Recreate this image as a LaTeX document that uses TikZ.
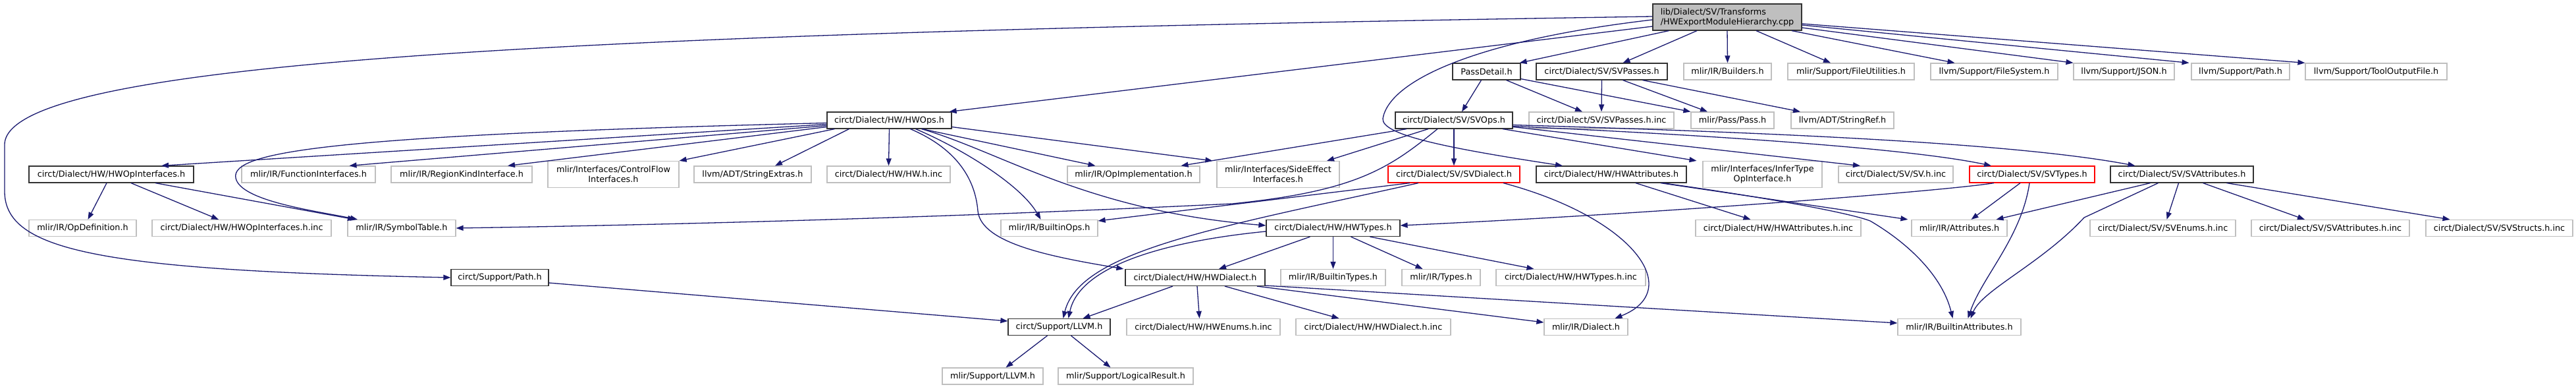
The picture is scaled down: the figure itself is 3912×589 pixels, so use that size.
\documentclass[tikz,border=0pt]{standalone}
\usepackage{fontspec}
\setmainfont{DejaVu Sans}
\usetikzlibrary{arrows.meta}
\definecolor{edgeblue}{HTML}{191970}
\definecolor{nodegray}{HTML}{BFBFBF}
\definecolor{rootfill}{HTML}{BFBFBF}
\definecolor{darkborder}{HTML}{333333}
\begin{document}
\begin{tikzpicture}[x=1pt,y=-1pt,
  box/.style={draw, rectangle, inner xsep=1pt, inner ysep=0pt, minimum height=25pt, fill=white,
    font=\fontsize{12.8}{15}\selectfont, line width=1.2pt},
  doc/.style={box, draw=darkborder},
  undoc/.style={box, draw=nodegray},
  trunc/.style={box, draw=red},
  rootbox/.style={box, draw=darkborder, fill=rootfill, align=left, minimum height=40pt},
  two/.style={align=center, minimum height=40pt},
  e/.style={draw=edgeblue, line width=1.3pt, -{Triangle[length=11pt,width=8pt]}}]
\fill[white] (0,0) rectangle (3912,589);
\useasboundingbox (0,0) rectangle (3912,589);
% row 0
\node[rootbox, minimum width=226pt] (root) at (2623,26) {lib/Dialect/SV/Transforms\\/HWExportModuleHierarchy.cpp};
% row 1
\node[doc, minimum width=103pt] (passdetail) at (2257.5,108.5) {PassDetail.h};
\node[doc, minimum width=199pt] (svpasses) at (2432.5,108.5) {circt/Dialect/SV/SVPasses.h};
\node[undoc, minimum width=133pt] (builders) at (2623.5,108.5) {mlir/IR/Builders.h};
\node[undoc, minimum width=192pt] (fileutil) at (2811,108.5) {mlir/Support/FileUtilities.h};
\node[undoc, minimum width=193pt] (filesystem) at (3028.5,108.5) {llvm/Support/FileSystem.h};
\node[undoc, minimum width=153pt] (json) at (3225.5,108.5) {llvm/Support/JSON.h};
\node[undoc, minimum width=149pt] (llvmpath) at (3402.5,108.5) {llvm/Support/Path.h};
\node[undoc, minimum width=215pt] (tooloutput) at (3608.5,108.5) {llvm/Support/ToolOutputFile.h};
% row 2
\node[doc, minimum width=189pt] (hwops) at (1350.5,182.5) {circt/Dialect/HW/HWOps.h};
\node[doc, minimum width=178pt] (svops) at (2208,182.5) {circt/Dialect/SV/SVOps.h};
\node[undoc, minimum width=220pt] (svpassesinc) at (2432,182.5) {circt/Dialect/SV/SVPasses.h.inc};
\node[undoc, minimum width=126pt] (pass) at (2631,182.5) {mlir/Pass/Pass.h};
\node[undoc, minimum width=156pt] (stringref) at (2798,182.5) {llvm/ADT/StringRef.h};
% row 3
\node[doc, minimum width=250pt] (hwopif) at (169,264.5) {circt/Dialect/HW/HWOpInterfaces.h};
\node[undoc, minimum width=203pt] (funcif) at (468.5,264.5) {mlir/IR/FunctionInterfaces.h};
\node[undoc, minimum width=214pt] (regionkind) at (701,264.5) {mlir/IR/RegionKindInterface.h};
\node[undoc, two, minimum width=199pt] (controlflow) at (931.5,264.5) {mlir/Interfaces/ControlFlow\\Interfaces.h};
\node[undoc, minimum width=178pt] (stringextras) at (1143,264.5) {llvm/ADT/StringExtras.h};
\node[undoc, minimum width=187pt] (hwhinc) at (1349.5,264.5) {circt/Dialect/HW/HW.h.inc};
\node[undoc, minimum width=201pt] (opimpl) at (1721.5,264.5) {mlir/IR/OpImplementation.h};
\node[undoc, two, minimum width=186pt] (sideeffect) at (1941,264.5) {mlir/Interfaces/SideEffect\\Interfaces.h};
\node[trunc, minimum width=200pt] (svdialect) at (2208,264.5) {circt/Dialect/SV/SVDialect.h};
\node[doc, minimum width=228pt] (hwattr) at (2447,264.5) {circt/Dialect/HW/HWAttributes.h};
\node[undoc, two, minimum width=181pt] (infertype) at (2676.5,264.5) {mlir/Interfaces/InferType\\OpInterface.h};
\node[undoc, minimum width=174pt] (svhinc) at (2879,264.5) {circt/Dialect/SV/SV.h.inc};
\node[trunc, minimum width=190pt] (svtypes) at (3086,264.5) {circt/Dialect/SV/SVTypes.h};
\node[doc, minimum width=217pt] (svattr) at (3313.5,264.5) {circt/Dialect/SV/SVAttributes.h};
% row 4
\node[undoc, minimum width=163pt] (opdef) at (125.5,346) {mlir/IR/OpDefinition.h};
\node[undoc, minimum width=272pt] (hwopifinc) at (367,346) {circt/Dialect/HW/HWOpInterfaces.h.inc};
\node[undoc, minimum width=164pt] (symtab) at (610,346) {mlir/IR/SymbolTable.h};
\node[undoc, minimum width=147pt] (builtinops) at (1593.5,346) {mlir/IR/BuiltinOps.h};
\node[doc, minimum width=203pt] (hwtypes) at (2024.5,346) {circt/Dialect/HW/HWTypes.h};
\node[undoc, minimum width=251pt] (hwattrinc) at (2700.5,346) {circt/Dialect/HW/HWAttributes.h.inc};
\node[undoc, minimum width=145pt] (attributes) at (2975.5,346) {mlir/IR/Attributes.h};
\node[undoc, minimum width=221pt] (svenumsinc) at (3284.5,346) {circt/Dialect/SV/SVEnums.h.inc};
\node[undoc, minimum width=240pt] (svattrinc) at (3539,346) {circt/Dialect/SV/SVAttributes.h.inc};
\node[undoc, minimum width=223pt] (svstructsinc) at (3795.5,346) {circt/Dialect/SV/SVStructs.h.inc};
% row 5
\node[doc, minimum width=148pt] (cpath) at (759,421) {circt/Support/Path.h};
\node[doc, minimum width=212pt] (hwdialect) at (1815,421) {circt/Dialect/HW/HWDialect.h};
\node[undoc, minimum width=159pt] (builtintypes) at (2024.5,421) {mlir/IR/BuiltinTypes.h};
\node[undoc, minimum width=119pt] (types) at (2188.5,421) {mlir/IR/Types.h};
\node[undoc, minimum width=227pt] (hwtypesinc) at (2385.5,421) {circt/Dialect/HW/HWTypes.h.inc};
% row 6
\node[doc, minimum width=155pt] (llvm) at (1608.5,496) {circt/Support/LLVM.h};
\node[undoc, minimum width=233pt] (hwenumsinc) at (1827.5,496) {circt/Dialect/HW/HWEnums.h.inc};
\node[undoc, minimum width=235pt] (hwdialectinc) at (2085.5,496) {circt/Dialect/HW/HWDialect.h.inc};
\node[undoc, minimum width=127pt] (dialect) at (2408.5,496) {mlir/IR/Dialect.h};
\node[undoc, minimum width=187pt] (builtinattr) at (2975.5,496) {mlir/IR/BuiltinAttributes.h};
% row 7
\node[undoc, minimum width=153pt] (mlirllvm) at (1507.5,570.5) {mlir/Support/LLVM.h};
\node[undoc, minimum width=205pt] (logical) at (1709.5,570.5) {mlir/Support/LogicalResult.h};

% ---- edges: root
\draw[e] ([yshift=1pt]root.west) .. controls (900,50) and (5,90) .. (7,220) -- (7,290) .. controls (7,380) and (150,410) .. (cpath.west);
\draw[e] ([yshift=-14pt]root.west) -- ([xshift=-4pt]hwops.north east);
\draw[e] ([yshift=-4pt]root.west) .. controls (2250,60) and (2110,120) .. (2100,180) .. controls (2098,205) and (2200,225) .. ([xshift=-74pt]hwattr.north);
\draw[e] ([xshift=25pt]root.south west) -- ([xshift=-2pt]passdetail.north east);
\draw[e] ([xshift=-46pt]root.south) -- ([xshift=32pt]svpasses.north);
\draw[e] (root.south) -- (builders.north);
\draw[e] ([xshift=44pt]root.south) -- ([xshift=-31pt]fileutil.north);
\draw[e] ([xshift=98pt]root.south) -- ([xshift=-60pt]filesystem.north);
\draw[e] ([yshift=-16pt]root.east) -- ([xshift=-77pt]json.north);
\draw[e] ([yshift=-12pt]root.east) -- ([xshift=-78pt]llvmpath.north);
\draw[e] ([yshift=-10pt]root.east) -- (tooloutput.north west);
% PassDetail
\draw[e] ([xshift=-8pt]passdetail.south) -- ([xshift=12pt]svops.north);
\draw[e] ([xshift=30pt]passdetail.south) -- ([xshift=-29pt]svpassesinc.north);
\draw[e] ([yshift=2pt]passdetail.south east) -- (pass.north west);
% SVPasses
\draw[e] (svpasses.south) -- (svpassesinc.north);
\draw[e] ([xshift=32pt]svpasses.south) -- ([xshift=-38pt]pass.north);
\draw[e] ([xshift=62pt]svpasses.south) -- ([xshift=-64pt]stringref.north);
% HWOps
\draw[e] ([yshift=-4pt]hwops.west) .. controls (500,205) and (350,230) .. (358,270) .. controls (365,305) and (480,320) .. ([xshift=-67pt]symtab.north);
\draw[e] ([yshift=-6pt]hwops.west) -- ([xshift=76pt]hwopif.north);
\draw[e] ([yshift=-8pt]hwops.west) -- ([xshift=62pt]funcif.north);
\draw[e] ([yshift=-10pt]hwops.west) -- ([xshift=70pt]regionkind.north);
\draw[e] ([xshift=12pt]hwops.south west) -- (controlflow.north east);
\draw[e] ([xshift=-61pt]hwops.south) -- ([xshift=34pt]stringextras.north);
\draw[e] (hwops.south) -- (hwhinc.north);
\draw[e] ([xshift=50pt]hwops.south) -- ([xshift=-58pt]opimpl.north);
\draw[e] ([yshift=-10pt]hwops.east) -- ([xshift=-6pt]sideeffect.north west);
\draw[e] ([xshift=40pt]hwops.south) .. controls (1460,225) and (1550,280) .. ([xshift=-13pt]builtinops.north);
\draw[e] ([xshift=49pt]hwops.south) .. controls (1520,230) and (1650,320) .. ([yshift=4pt]hwtypes.west);
\draw[e] ([xshift=32pt]hwops.south) .. controls (1440,220) and (1480,260) .. (1485,320) .. controls (1490,370) and (1600,390) .. ([xshift=-2pt]hwdialect.north west);
% HWOpInterfaces
\draw[e] ([xshift=-7pt]hwopif.south) -- ([xshift=8pt]opdef.north);
\draw[e] ([xshift=30pt]hwopif.south) -- ([xshift=-35pt]hwopifinc.north);
\draw[e] ([xshift=67pt]hwopif.south) -- ([xshift=-71pt]symtab.north);
% SVOps
\draw[e] ([xshift=-72pt]svops.south) -- ([xshift=72pt]opimpl.north);
\draw[e] ([xshift=-39pt]svops.south) -- ([xshift=74pt]sideeffect.north);
\draw[e] ([xshift=-25pt]svops.south) .. controls (2110,255) and (2060,290) .. (1871,309) .. controls (1600,322) and (1200,338) .. (symtab.east);
\draw[e] (svops.south) -- (svdialect.north);
\draw[e] ([xshift=74pt]svops.south) -- ([xshift=-100pt]infertype.north);
\draw[e] ([yshift=-10pt]svops.east) -- ([xshift=-54pt]svhinc.north);
\draw[e] ([yshift=-9pt]svops.east) .. controls (2600,205) and (2900,225) .. ([xshift=-62pt]svtypes.north);
\draw[e] ([yshift=-7pt]svops.east) .. controls (2650,200) and (3050,215) .. ([xshift=-71pt]svattr.north);
% SVDialect
\draw[e] ([xshift=-67pt]svdialect.south) -- ([yshift=11pt]builtinops.east);
\draw[e] ([xshift=-54pt]svdialect.south) .. controls (1850,345) and (1640,380) .. ([xshift=6pt]llvm.north);
\draw[e] ([xshift=75pt]svdialect.south) .. controls (2480,330) and (2560,440) .. ([xshift=44pt]dialect.north);
% HWAttributes
\draw[e] ([xshift=37pt]hwattr.south) -- ([xshift=-42pt]hwattrinc.north);
\draw[e] ([xshift=75pt]hwattr.south) -- ([xshift=-5pt]attributes.north west);
\draw[e] ([xshift=78pt]hwattr.south) .. controls (2650,295) and (2800,320) .. (2840,335) .. controls (2900,370) and (2950,420) .. ([xshift=-10pt]builtinattr.north);
% SVTypes
\draw[e] ([xshift=-58pt]svtypes.south) .. controls (2950,290) and (2500,325) .. ([yshift=4pt]hwtypes.east);
\draw[e] ([xshift=-18pt]svtypes.south) -- ([xshift=18pt]attributes.north);
\draw[e] ([xshift=-4pt]svtypes.south) .. controls (3070,360) and (3010,420) .. ([xshift=13pt]builtinattr.north);
% SVAttributes
\draw[e] ([xshift=-48pt]svattr.south) -- ([xshift=56pt]attributes.north);
\draw[e] ([xshift=-36pt]svattr.south) -- (3165,330) .. controls (3100,400) and (3010,440) .. ([xshift=17pt]builtinattr.north);
\draw[e] ([xshift=-5pt]svattr.south) -- ([xshift=6pt]svenumsinc.north);
\draw[e] ([xshift=32pt]svattr.south) -- ([xshift=-39pt]svattrinc.north);
\draw[e] ([xshift=68pt]svattr.south) -- ([xshift=-75pt]svstructsinc.north);
% HWTypes
\draw[e] ([xshift=-35pt]hwtypes.south) -- ([xshift=36pt]hwdialect.north);
\draw[e] (hwtypes.south) -- (builtintypes.north);
\draw[e] ([xshift=27pt]hwtypes.south) -- ([xshift=-28pt]types.north);
\draw[e] ([xshift=56pt]hwtypes.south) -- ([xshift=-56pt]hwtypesinc.north);
\draw[e] ([yshift=-5pt]hwtypes.west) .. controls (1780,365) and (1640,400) .. ([xshift=14pt]llvm.north);
% HWDialect
\draw[e] ([xshift=-34pt]hwdialect.south) -- ([xshift=36pt]llvm.north);
\draw[e] ([xshift=3pt]hwdialect.south) -- ([xshift=-6pt]hwenumsinc.north);
\draw[e] ([xshift=45pt]hwdialect.south) -- ([xshift=-52pt]hwdialectinc.north);
\draw[e] ([xshift=94pt]hwdialect.south) -- ([yshift=7pt]dialect.west);
\draw[e] ([yshift=1pt]hwdialect.south east) -- ([yshift=6pt]builtinattr.west);
% Path, LLVM
\draw[e] ([yshift=-8pt]cpath.east) -- ([yshift=9pt]llvm.west);
\draw[e] ([xshift=-18pt]llvm.south) -- ([xshift=20pt]mlirllvm.north);
\draw[e] ([xshift=18pt]llvm.south) -- ([xshift=-23pt]logical.north);
\end{tikzpicture}
\end{document}
